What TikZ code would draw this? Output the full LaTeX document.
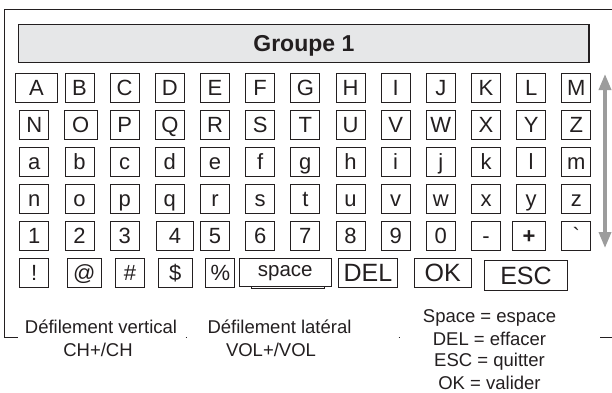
\documentclass[tikz,border=0pt]{standalone}
\usepackage{fontspec}
\setmainfont{Liberation Sans}
\usetikzlibrary{arrows.meta}
\definecolor{ink}{HTML}{231F20}
\definecolor{barfill}{HTML}{E6E7E8}
\definecolor{arrowgray}{HTML}{9C9C9C}
\begin{document}
\begin{tikzpicture}[x=1pt,y=-1pt,
  key/.style={draw=ink,line width=0.9pt,fill=white,inner sep=0pt,minimum width=29pt,minimum height=29pt,text=ink,font=\fontsize{22}{26}\selectfont,text height=20.8pt,text depth=5pt},
  bigkey/.style={key,font=\fontsize{25}{30}\selectfont,text height=22.9pt,text depth=5pt},
  note/.style={anchor=base,text=ink,font=\fontsize{18.5}{22}\selectfont,inner sep=0pt},
  frame/.style={draw=ink,line width=0.9pt}]
\useasboundingbox (0,0) rectangle (612,392);
\fill[white] (0,0) rectangle (612,392);

% outer frame (broken by the notes)
\draw[frame] (612,9) -- (4.5,9) -- (4.5,337) -- (18,337);
\draw[frame] (185.5,337) -- (186.5,337);
\draw[frame] (398.5,337) -- (399.5,337);
\draw[frame] (600,337) -- (612,337);

% title bar
\node[draw=ink,line width=1.1pt,fill=barfill,minimum width=570.3pt,minimum height=38.4pt,inner sep=0pt,
  font=\bfseries\fontsize{23}{28}\selectfont,text=ink,text height=20pt,text depth=5pt] (title) at (303.85,43.5) {Groupe 1};

% row 1
\node[key,minimum width=41.6pt,minimum height=29.4pt] (r1c1) at (36.5,88) {A};
\foreach \t [count=\i from 2] in {B,C,D,E,F,G,H,I,J,K,L,M}
  \node[key] (r1c\i) at ({34.3+45.17*(\i-1)},88) {\t};
% row 2
\node[key] (r2c1) at (34.3,125) {N};
\node[key,minimum width=33pt] (r2c2) at (80.8,125) {O};
\foreach \t [count=\i from 3] in {P,Q,R,S,T,U,V,W,X,Y,Z}
  \node[key] (r2c\i) at ({34.3+45.17*(\i-1)},125) {\t};
% row 3
\foreach \t [count=\i from 1] in {a,b,c,d,e,f,g,h,i,j,k,l,m}
  \node[key] (r3c\i) at ({34.3+45.17*(\i-1)},162) {\t};
% row 4
\foreach \t [count=\i from 1] in {n,o,p,q,r,s,t,u,v,w,x,y,z}
  \node[key] (r4c\i) at ({34.3+45.17*(\i-1)},199) {\t};
% row 5
\foreach \t [count=\i from 1] in {1,2,3}
  \node[key] (r5c\i) at ({34.3+45.17*(\i-1)},236) {\t};
\node[key,minimum width=36.6pt] (r5c4) at (175,236) {4};
\foreach \t [count=\i from 5] in {5,6,7,8,9,0,-}
  \node[key] (r5c\i) at ({34.3+45.17*(\i-1)},236) {\t};
\node[key,minimum width=32.6pt,font=\bfseries\fontsize{22}{26}\selectfont] (r5c12) at (529,236) {+};
\node[key] (r5c13) at (576.3,236) {\textasciigrave};
% row 6
\node[key] (r6c1) at (34.3,273) {!};
\node[key,minimum width=33.3pt] (r6c2) at (84.3,273) {@};
\node[key] (r6c3) at (130,273) {\#};
\node[key,minimum width=34.7pt] (r6c4) at (175.3,273) {\$};
\node[key] (r6c5) at (220.3,273) {\%};
\node[key,minimum width=73pt,minimum height=26.3pt] (spaceback) at (287.5,275.15) {};
\node[key,font=\fontsize{20.5}{24}\selectfont,minimum width=92.7pt,minimum height=27.7pt,text height=14pt,text depth=5pt] (space) at (285.3,272.2) {space};
\node[bigkey,minimum width=59.4pt,minimum height=29.4pt] (del) at (368,273) {DEL};
\node[bigkey,minimum width=56.7pt,minimum height=29.4pt] (ok) at (442.7,273) {OK};
\node[bigkey,minimum width=83.4pt,minimum height=30.7pt] (esc) at (526,275.3) {ESC};

% vertical scroll arrow
\coordinate (atop) at (605,74);
\coordinate (abot) at (605,248);
\draw[arrowgray,line width=3.5pt,{Triangle[width=12pt,length=16pt]}-{Triangle[width=12pt,length=16pt]}] (atop) -- (abot);

% notes
\node[note] (v1) at (101,333.3) {Défilement vertical};
\node[note] (v2) at (98,356) {CH+/CH};
\node[note] (l1) at (279.5,333.3) {Défilement latéral};
\node[note] (l2) at (271,356) {VOL+/VOL};
\node[note] (s1) at (489.5,322.7) {Space = espace};
\node[note] (s2) at (489.5,345) {DEL = effacer};
\node[note] (s3) at (489.5,366.7) {ESC = quitter};
\node[note] (s4) at (489.5,389.3) {OK = valider};
\end{tikzpicture}
\end{document}
